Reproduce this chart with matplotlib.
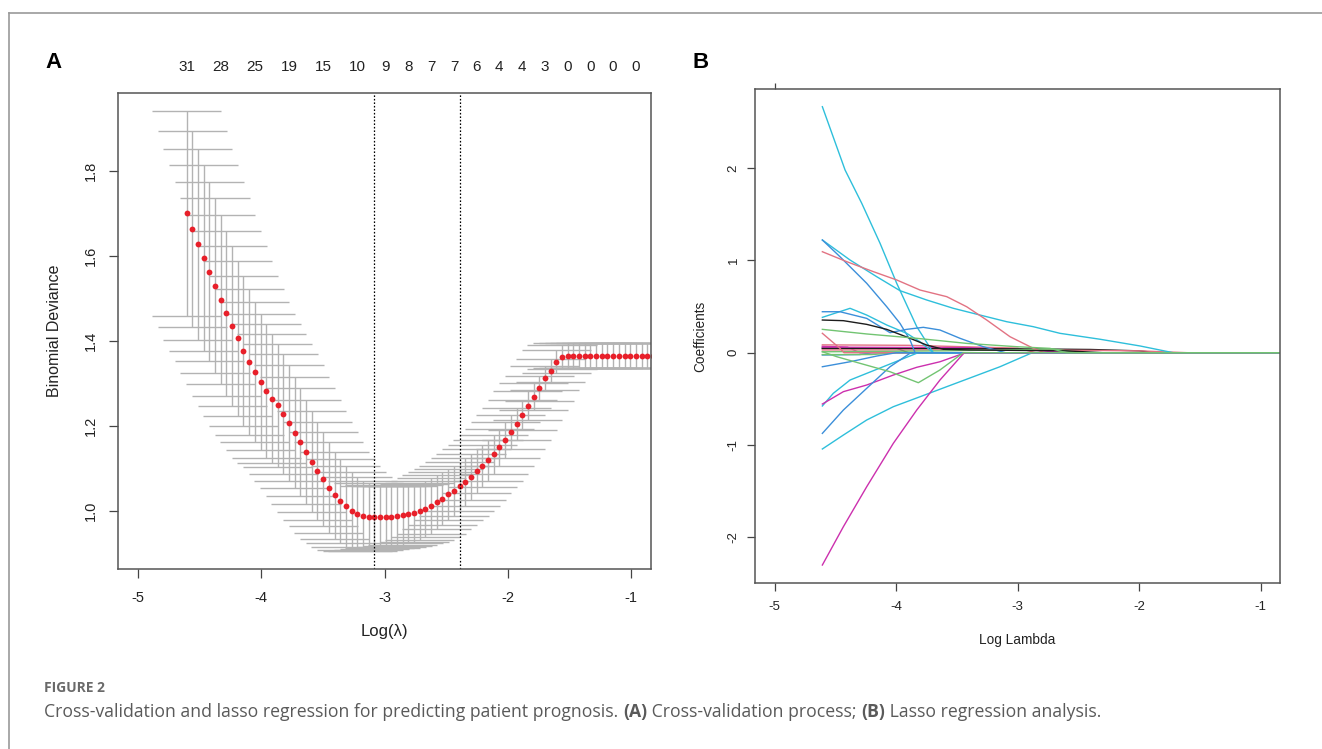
import matplotlib.pyplot as plt
from matplotlib.lines import Line2D

W, H = 1322, 749

# ---- panel A: cross-validated binomial deviance along the lambda path ----
log_lambda = [
    -4.604, -4.558, -4.512, -4.466, -4.420, -4.374, -4.327, -4.281, -4.235, -4.189,
    -4.143, -4.097, -4.051, -4.005, -3.959, -3.913, -3.866, -3.820, -3.774, -3.728,
    -3.682, -3.636, -3.590, -3.544, -3.498, -3.452, -3.405, -3.359, -3.313, -3.267,
    -3.221, -3.175, -3.129, -3.083, -3.037, -2.991, -2.944, -2.898, -2.852, -2.806,
    -2.760, -2.714, -2.668, -2.622, -2.576, -2.530, -2.483, -2.437, -2.391, -2.345,
    -2.299, -2.253, -2.207, -2.161, -2.115, -2.069, -2.022, -1.976, -1.930, -1.884,
    -1.838, -1.792, -1.746, -1.700, -1.654, -1.608, -1.561, -1.515, -1.469, -1.423,
    -1.377, -1.331, -1.285, -1.239, -1.193, -1.147, -1.100, -1.054, -1.008, -0.962,
    -0.916, -0.870, -0.824,
]
cv_mean = [
    1.700, 1.664, 1.627, 1.595, 1.563, 1.529, 1.497, 1.465, 1.435, 1.406,
    1.376, 1.349, 1.326, 1.303, 1.282, 1.264, 1.248, 1.228, 1.206, 1.184,
    1.161, 1.138, 1.115, 1.094, 1.074, 1.054, 1.036, 1.023, 1.010, 0.999,
    0.992, 0.988, 0.986, 0.984, 0.986, 0.986, 0.986, 0.987, 0.989, 0.992,
    0.995, 0.999, 1.004, 1.011, 1.020, 1.028, 1.039, 1.047, 1.057, 1.068,
    1.080, 1.094, 1.105, 1.119, 1.133, 1.149, 1.167, 1.185, 1.204, 1.225,
    1.247, 1.268, 1.288, 1.312, 1.330, 1.351, 1.362, 1.365, 1.365, 1.365,
    1.365, 1.365, 1.365, 1.365, 1.365, 1.365, 1.365, 1.365, 1.365, 1.365,
    1.365, 1.365, 1.365,
]
cv_se = [
    0.242, 0.231, 0.225, 0.218, 0.211, 0.206, 0.199, 0.194, 0.188, 0.182,
    0.177, 0.172, 0.165, 0.161, 0.157, 0.151, 0.145, 0.142, 0.136, 0.131,
    0.127, 0.123, 0.119, 0.115, 0.111, 0.107, 0.103, 0.099, 0.095, 0.091,
    0.087, 0.083, 0.079, 0.075, 0.074, 0.073, 0.072, 0.071, 0.070, 0.069,
    0.068, 0.067, 0.066, 0.065, 0.063, 0.062, 0.060, 0.059, 0.057, 0.056,
    0.054, 0.052, 0.050, 0.048, 0.046, 0.044, 0.042, 0.040, 0.038, 0.036,
    0.034, 0.032, 0.030, 0.029, 0.028, 0.028, 0.028, 0.029, 0.029, 0.029,
    0.029, 0.029, 0.029, 0.029, 0.029, 0.029, 0.029, 0.029, 0.029, 0.029,
    0.029, 0.029, 0.029,
]
idx_min = 33      # lambda.min
idx_1se = 48      # lambda.1se
nz_idx = [0, 6, 12, 18, 24, 30, 35, 39, 43, 47, 51, 55, 59, 63, 67, 71, 75, 79]
nz_count = [31, 28, 25, 19, 15, 10, 9, 8, 7, 7, 6, 4, 4, 3, 0, 0, 0, 0]
cap_half = 0.28

# ---- panel B: lasso coefficient paths (knots in log lambda, coefficient) ----
BLACK, RED, GREEN, BLUE, CYAN, MAGENTA = (
    "#1c1c1c", "#E27383", "#72C472", "#3C8FDA", "#2EBFDB", "#CC30AE")

c01_x = [-4.608, -4.421, -4.284, -4.133, -3.996, -3.831, -3.695]
c01_y = [2.665, 1.979, 1.619, 1.185, 0.752, 0.282, 0.0]
c02_x = [-4.608, -4.380, -4.160, -3.969, -3.749, -3.530, -3.310, -3.091, -2.872,
         -2.652, -2.323, -1.993, -1.720]
c02_y = [1.221, 1.004, 0.823, 0.672, 0.571, 0.481, 0.408, 0.336, 0.282,
         0.210, 0.146, 0.073, 0.0]
c03_x = [-4.608, -4.463, -4.243, -4.078, -3.969, -3.886, -3.845]
c03_y = [1.221, 1.040, 0.752, 0.498, 0.318, 0.137, 0.0]
c04_x = [-4.608, -4.407, -4.188, -3.996, -3.804, -3.584, -3.420, -3.255, -3.063,
         -2.872, -2.780]
c04_y = [1.094, 0.986, 0.878, 0.788, 0.679, 0.607, 0.498, 0.354, 0.173,
         0.048, 0.0]
c05_x = [-4.608, -4.380, -4.243, -4.078, -3.914, -3.804, -3.695]
c05_y = [0.383, 0.481, 0.408, 0.300, 0.210, 0.119, 0.0]
c06_x = [-4.608, -4.463, -4.243, -4.051, -3.914, -3.777, -3.640, -3.475, -3.283,
         -3.100]
c06_y = [0.444, 0.444, 0.372, 0.217, 0.253, 0.275, 0.246, 0.156, 0.065, 0.0]
c07_x = [-4.608, -4.435, -4.243, -4.078, -3.886, -3.749, -3.612, -3.400, -2.600,
         -2.300]
c07_y = [0.354, 0.347, 0.307, 0.253, 0.156, 0.083, 0.037, 0.030, 0.020, 0.0]
c08_x = [-4.608, -4.243, -3.831, -3.420, -3.008, -2.734, -2.600]
c08_y = [0.253, 0.203, 0.156, 0.101, 0.065, 0.047, 0.0]
c09_x = [-4.608, -4.463, -4.430]
c09_y = [0.210, 0.047, 0.0]
c10_x = [-4.608, -4.380, -4.160, -4.000]
c10_y = [-0.152, -0.098, -0.036, 0.0]
c11_x = [-4.608, -4.518, -4.380, -4.160, -3.969, -3.820]
c11_y = [-0.577, -0.440, -0.296, -0.180, -0.079, 0.0]
c12_x = [-4.608, -4.435, -4.243, -4.024, -3.831, -3.640, -3.430]
c12_y = [-0.556, -0.422, -0.350, -0.242, -0.158, -0.098, 0.0]
c13_x = [-4.608, -4.435, -4.243, -4.051, -3.880]
c13_y = [-0.874, -0.621, -0.386, -0.152, 0.0]
c14_x = [-4.608, -4.435, -4.243, -4.024, -3.804, -3.584, -3.365, -3.146, -2.880]
c14_y = [-1.043, -0.892, -0.729, -0.585, -0.477, -0.368, -0.260, -0.152, 0.0]
c15_x = [-4.608, -4.435, -4.243, -4.024, -3.831, -3.640, -3.440]
c15_y = [-2.300, -1.885, -1.452, -0.982, -0.621, -0.296, 0.0]
# small coefficients hugging zero
c16_x = [-4.608, -3.900, -3.000, -2.850]
c16_y = [0.085, 0.080, 0.050, 0.0]
c17_x = [-4.608, -3.400, -2.900, -2.600]
c17_y = [0.060, 0.055, 0.030, 0.0]
c18_x = [-4.608, -3.000, -2.400, -2.000, -1.850]
c18_y = [0.045, 0.042, 0.035, 0.020, 0.0]
c19_x = [-4.608, -2.800, -2.000, -1.600]
c19_y = [0.030, 0.030, 0.020, 0.0]
c20_x = [-4.608, -4.000, -3.900]
c20_y = [0.050, 0.050, 0.0]
c21_x = [-4.608, -4.300, -4.200]
c21_y = [-0.025, -0.020, 0.0]
c22_x = [-4.608, -4.400, -4.300]
c22_y = [0.070, 0.060, 0.0]
c23_x = [-4.608, -4.200, -4.000]
c23_y = [-0.020, -0.020, 0.0]
c24_x = [-4.608, -3.600, -2.700, -2.500]
c24_y = [0.010, 0.020, 0.040, 0.0]
c25_x = [-4.608, -4.490, -4.298, -4.051, -3.818, -3.640, -3.448]
c25_y = [0.011, -0.043, -0.115, -0.206, -0.325, -0.187, 0.0]

caption_head = "FIGURE 2"
caption_runs = [
    ("Cross-validation and lasso regression for predicting patient prognosis. ", "normal"),
    ("(A)", "bold"),
    (" Cross-validation process; ", "normal"),
    ("(B)", "bold"),
    (" Lasso regression analysis.", "normal"),
]

fig = plt.figure(figsize=(W / 100, H / 100), dpi=100)
FONT = ["Liberation Sans", "DejaVu Sans"]
NARROW = ["Liberation Sans Narrow", "Liberation Sans", "DejaVu Sans"]
CAP = ["Open Sans", "Lato", "DejaVu Sans"]
plt.rcParams["font.family"] = FONT


def px_rect(x0, y0, x1, y1):
    return [x0 / W, 1 - y1 / H, (x1 - x0) / W, (y1 - y0) / H]


def fx(x):
    return x / W


def fy(y):
    return 1 - y / H


def style_axes(ax, tick_len, xpad, ypad, size):
    for s in ax.spines.values():
        s.set_color("#555555")
        s.set_linewidth(1.1)
    ax.tick_params(direction="out", length=tick_len, width=0.9, color="#444444",
                   labelsize=size, labelcolor="#222222")
    ax.tick_params(axis="x", pad=xpad)
    ax.tick_params(axis="y", pad=ypad)


# outer frame of the figure block
fig.add_artist(Line2D([fx(9.3), 1.0], [fy(13.3), fy(13.3)], color="#9a9a9a", lw=1.2))
fig.add_artist(Line2D([fx(9.3), fx(9.3)], [fy(13.3), 0.0], color="#9a9a9a", lw=1.2))

# ---------------- panel A ----------------
axA = fig.add_axes(px_rect(118, 92.7, 651, 569.3))
lo = [m - s for m, s in zip(cv_mean, cv_se)]
hi = [m + s for m, s in zip(cv_mean, cv_se)]
left = [x - cap_half for x in log_lambda]
right = [x + cap_half for x in log_lambda]
bar_col = "#b3b3b3"
axA.vlines(log_lambda, lo, hi, color=bar_col, lw=1.0)
axA.hlines(lo, left, right, color=bar_col, lw=1.0)
axA.hlines(hi, left, right, color=bar_col, lw=1.0)
axA.plot(log_lambda, cv_mean, "o", color="#E8202A", ms=4.2, mec="none")
for k in (idx_min, idx_1se):
    axA.axvline(log_lambda[k], color="black", lw=0.9, ls=(0, (1.3, 1.5)))
axA.set_xlim(-5.16, -0.84)
axA.set_ylim(0.862, 1.984)
axA.set_xticks([-5, -4, -3, -2, -1], ["-5", "-4", "-3", "-2", "-1"])
axA.set_yticks([1.0, 1.2, 1.4, 1.6, 1.8], ["1.0", "1.2", "1.4", "1.6", "1.8"],
               rotation=90, va="center")
style_axes(axA, 6.5, 8.9, 8.0, 10.5)

topA = axA.secondary_xaxis("top")
topA.set_xticks([log_lambda[i] for i in nz_idx], [str(c) for c in nz_count])
topA.tick_params(length=0, pad=13.5, labelsize=11, labelcolor="#222222")
for t in topA.get_xticklabels():
    t.set_family(NARROW)
topA.spines["top"].set_visible(False)

fig.text(fx(55), fy(331), "Binomial Deviance", rotation=90, ha="center",
         va="center", fontsize=11.5, color="#222222")
fig.text(fx(384.5), fy(631.5), "Log(\u03bb)", ha="center", va="center",
         fontsize=12, color="#222222")
fig.text(fx(54), fy(62), "A", ha="center", va="center", fontsize=16,
         fontweight="bold", color="black")

# ---------------- panel B ----------------
axB = fig.add_axes(px_rect(754.7, 88.7, 1279.6, 583.3))
paths = [
    (c20_x, c20_y, BLACK), (c22_x, c22_y, MAGENTA), (c16_x, c16_y, RED),
    (c17_x, c17_y, MAGENTA), (c18_x, c18_y, BLACK), (c19_x, c19_y, RED),
    (c21_x, c21_y, BLUE), (c23_x, c23_y, GREEN), (c24_x, c24_y, GREEN),
    (c01_x, c01_y, CYAN), (c02_x, c02_y, CYAN), (c03_x, c03_y, BLUE),
    (c04_x, c04_y, RED), (c05_x, c05_y, CYAN), (c06_x, c06_y, BLUE),
    (c07_x, c07_y, BLACK), (c09_x, c09_y, RED), (c10_x, c10_y, BLUE),
    (c11_x, c11_y, CYAN), (c12_x, c12_y, MAGENTA), (c13_x, c13_y, BLUE),
    (c14_x, c14_y, CYAN), (c15_x, c15_y, MAGENTA), (c08_x, c08_y, GREEN),
    (c25_x, c25_y, GREEN),
]
for xs, ys, col in paths:
    # after dropping out of the model a coefficient stays at zero
    axB.plot(xs + [-0.5], ys + [0.0], color=col, lw=1.0)
axB.set_xlim(-5.165, -0.844)
axB.set_ylim(-2.498, 2.860)
axB.set_xticks([-5, -4, -3, -2, -1], ["-5", "-4", "-3", "-2", "-1"])
axB.set_yticks([-2, -1, 0, 1, 2], ["-2", "-1", "0", "1", "2"], rotation=90,
               va="center")
style_axes(axB, 6.0, 6.9, 4.9, 9.5)
topB = axB.secondary_xaxis("top")
topB.set_xticks([-5], [""])
topB.tick_params(length=4, width=0.9, color="#444444")
topB.spines["top"].set_visible(False)

fig.text(fx(700), fy(336), "Coefficients", rotation=90, ha="center", va="center",
         fontsize=9.8, color="#222222")
fig.text(fx(1016.7), fy(640), "Log Lambda", ha="center", va="center",
         fontsize=9.8, color="#222222")
fig.text(fx(701), fy(62.7), "B", ha="center", va="center", fontsize=16,
         fontweight="bold", color="black")

# ---------------- caption ----------------
fig.text(fx(44), fy(688), caption_head, ha="left", va="center", fontsize=10,
         fontweight="bold", color="#6a6a6a", family=CAP)

renderer = fig.canvas.get_renderer()


def place_caption(size):
    arts = []
    x_cur = 44
    for text, weight in caption_runs:
        t = fig.text(fx(x_cur), fy(712), text, ha="left", va="center",
                     fontsize=size, fontweight=weight, color="#5a5a5a", family=CAP)
        arts.append(t)
        x_cur += t.get_window_extent(renderer).width
    return arts, x_cur


# size the caption so the line spans the same width as the figure text block
trial, end_x = place_caption(11)
for a in trial:
    a.remove()
place_caption(11 * (1102 - 44) / (end_x - 44))

fig.savefig("out.png", dpi=100)
